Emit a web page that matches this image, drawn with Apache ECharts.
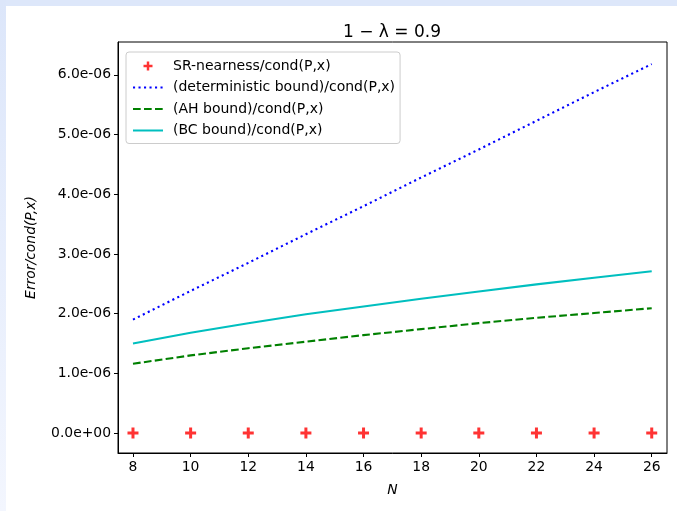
<!DOCTYPE html>
<html>
<head>
<meta charset="utf-8">
<script src="https://cdn.jsdelivr.net/npm/echarts@6/dist/echarts.min.js"></script>
<style>
html,body{margin:0;padding:0;background:#fff;}
#chart{width:677px;height:511px;}
</style>
</head>
<body>
<div id="chart"></div>
<script>
// ---- data ----
const N = [8, 10, 12, 14, 16, 18, 20, 22, 24, 26];
const srNearness = [0, 0, 0, 0, 0, 0, 0, 0, 0, 0];
const detBound = [1.90e-6, 2.38e-6, 2.85e-6, 3.33e-6, 3.80e-6, 4.28e-6, 4.75e-6, 5.23e-6, 5.71e-6, 6.18e-6];
const ahBound  = [1.16e-6, 1.30e-6, 1.42e-6, 1.53e-6, 1.64e-6, 1.74e-6, 1.84e-6, 1.93e-6, 2.01e-6, 2.09e-6];
const bcBound  = [1.50e-6, 1.68e-6, 1.84e-6, 1.99e-6, 2.12e-6, 2.25e-6, 2.37e-6, 2.49e-6, 2.60e-6, 2.71e-6];
const xTicks = [8, 10, 12, 14, 16, 18, 20, 22, 24, 26];
const yTicks = [0, 1e-6, 2e-6, 3e-6, 4e-6, 5e-6, 6e-6];
const seriesNames = ['SR-nearness/cond(P,x)', '(deterministic bound)/cond(P,x)', '(AH bound)/cond(P,x)', '(BC bound)/cond(P,x)'];

function pair(xs, ys){ return xs.map((x,i)=>[x, ys[i]]); }
function sci(v){
  if (Math.abs(v) < 1e-20) return '0.0e+00';
  let e = Math.floor(Math.log10(Math.abs(v)) + 1e-9);
  let m = v / Math.pow(10, e);
  if (Math.abs(m) >= 9.95) { m /= 10; e += 1; }
  const sign = e < 0 ? '-' : '+';
  const ae = Math.abs(e);
  return m.toFixed(1) + 'e' + sign + (ae < 10 ? '0' + ae : '' + ae);
}

const FONT = 'DejaVu Sans';
const plusPath = 'path://M4,0H7V4H11V7H7V11H4V7H0V4H4Z';
const hiddenSym = {color:'rgba(0,0,0,0)', borderWidth:0, opacity:0};

const chart = echarts.init(document.getElementById('chart'), null, {renderer:'canvas'});
chart.setOption({
  animation: false,
  backgroundColor: '#ffffff',
  graphic: [
    {type:'rect', left:0, top:0, shape:{width:677, height:6}, style:{fill:'#dde7fa'}, silent:true, z:-10},
    {type:'rect', left:0, top:0, shape:{width:6, height:511}, style:{fill:new echarts.graphic.LinearGradient(0,0,0,1,[{offset:0,color:'#dce6fa'},{offset:1,color:'#f3f6fe'}])}, silent:true, z:-10}
  ],
  title: {
    text: '1 \u2212 \u03bb = 0.9',
    left: 387, top: 19, textAlign: 'center',
    textStyle: {fontFamily: FONT, fontSize: 17, fontWeight: 'normal', color: '#000'}
  },
  grid: {left:118, right:10, top:42, bottom:58, show:true, borderColor:'#000', borderWidth:1, backgroundColor:'transparent'},
  legend: {
    orient:'vertical', left:126, top:52,
    padding:[7,5,6,6],
    borderColor:'#cccccc', borderWidth:1, borderRadius:3,
    backgroundColor:'rgba(255,255,255,0.8)',
    itemWidth:30, itemHeight:9, itemGap:7.5,
    textStyle:{fontFamily:FONT, fontSize:14, color:'#000', padding:[0,0,0,5]},
    data: [
      {name: seriesNames[0]},
      {name: seriesNames[1], itemStyle: hiddenSym},
      {name: seriesNames[2], itemStyle: hiddenSym},
      {name: seriesNames[3], itemStyle: hiddenSym}
    ]
  },
  xAxis: {
    type:'value', min:7.48, max:26.53,
    name:'N', nameLocation:'middle', nameGap:30,
    nameTextStyle:{fontFamily:FONT, fontSize:13.9, fontStyle:'italic', color:'#000'},
    axisLine:{show:true, onZero:false, lineStyle:{color:'#000', width:1}},
    axisTick:{show:true, length:4, lineStyle:{color:'#000'}, customValues:xTicks},
    axisLabel:{fontFamily:FONT, fontSize:13.9, color:'#000', margin:7, customValues:xTicks, formatter:v=>String(v)},
    splitLine:{show:false}
  },
  yAxis: {
    type:'value', min:-0.335e-6, max:6.55e-6,
    name:'Error/cond(P,x)', nameLocation:'middle', nameGap:80,
    nameTextStyle:{fontFamily:FONT, fontSize:13.9, fontStyle:'italic', color:'#000'},
    axisLine:{show:true, onZero:false, lineStyle:{color:'#000', width:1}},
    axisTick:{show:true, length:4, lineStyle:{color:'#000'}, customValues:yTicks},
    axisLabel:{fontFamily:FONT, fontSize:13.9, color:'#000', margin:7, customValues:yTicks, formatter:v=>sci(v)},
    splitLine:{show:false}
  },
  series: [
    {name:seriesNames[0], type:'scatter', data:pair(N, srNearness), symbol:plusPath, symbolSize:11, itemStyle:{color:'#ff0000'}, z:5},
    {name:seriesNames[1], type:'line', data:pair(N, detBound), showSymbol:false, lineStyle:{color:'#0000ff', width:2.1, type:[2.1,3.4], cap:'butt'}, itemStyle:{color:'#0000ff'}},
    {name:seriesNames[2], type:'line', data:pair(N, ahBound), showSymbol:false, lineStyle:{color:'#008000', width:2.1, type:[7.7,3.3], cap:'butt'}, itemStyle:{color:'#008000'}},
    {name:seriesNames[3], type:'line', data:pair(N, bcBound), showSymbol:false, lineStyle:{color:'#00bfbf', width:2.1}, itemStyle:{color:'#00bfbf'}}
  ]
});
</script>
</body>
</html>
